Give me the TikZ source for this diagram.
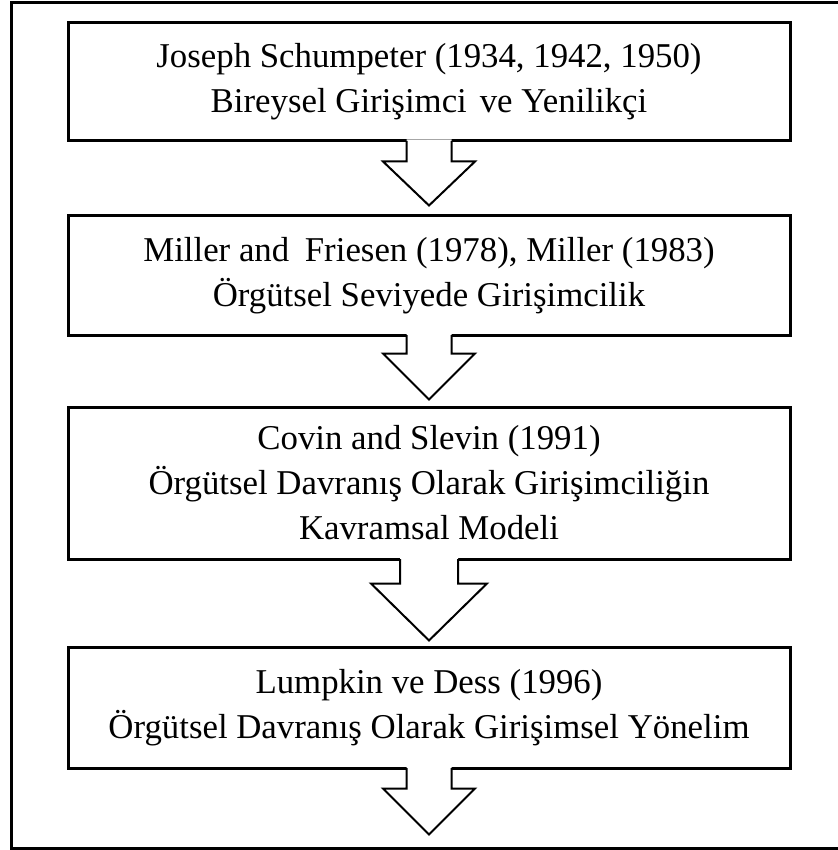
\documentclass[tikz,border=0pt]{standalone}
\usepackage{fontspec}
\setmainfont{Liberation Serif}
\usetikzlibrary{calc}
\newcommand\blockarrow[5]{%
  \fill[white] ($(#1.south)+(-#2,-3)$) -- ($(#1.south)+(-#2,#3)$) -- ($(#1.south)+(-#4,#3)$) -- ($(#1.south)+(0,#5)$) coordinate (#1tip) -- ($(#1.south)+(#4,#3)$) -- ($(#1.south)+(#2,#3)$) -- ($(#1.south)+(#2,-3)$) -- cycle;
  \draw[arrowline] ($(#1.south)+(-#2,-1.5)$) -- ($(#1.south)+(-#2,#3)$) -- ($(#1.south)+(-#4,#3)$) -- (#1tip) -- ($(#1.south)+(#4,#3)$) -- ($(#1.south)+(#2,#3)$) -- ($(#1.south)+(#2,-1.5)$);}
\begin{document}
\begin{tikzpicture}[x=0.5pt,y=-0.5pt,
  boxstyle/.style={draw, line width=1.5pt, minimum width=361pt, inner sep=0pt, align=center,
    font=\fontsize{17.4}{22.5}\selectfont},
  arrowline/.style={draw, line width=1pt, line join=miter},
  framestyle/.style={line width=1.5pt}]
\useasboundingbox (0,0) rectangle (838,850);
\draw[framestyle] (840,3) -- (11,3) -- (11,848.5) -- (840,848.5);
\node[boxstyle, minimum height=59pt] (b1) at (429,82)
  {Joseph Schumpeter (1934, 1942, 1950)\\Bireysel Girişimci\hspace{0.12em} ve Yenilikçi};
\node[boxstyle, minimum height=59.5pt] (b2) at (429,275.5)
  {Miller and\hspace{0.2em} Friesen (1978), Miller (1983)\\Örgütsel Seviyede Girişimcilik};
\node[boxstyle, minimum height=76pt] (b3) at (429,483)
  {Covin and Slevin (1991)\\Örgütsel Davranış Olarak Girişimciliğin\\Kavramsal Modeli};
\node[boxstyle, minimum height=60.5pt] (b4) at (429,707.5)
  {Lumpkin ve Dess (1996)\\Örgütsel Davranış Olarak Girişimsel Yönelim};
\blockarrow{b1}{22.5}{19}{46}{63}
\blockarrow{b2}{22.5}{17}{46}{63}
\blockarrow{b3}{29}{23}{58}{80}
\blockarrow{b4}{22.5}{19}{46}{65}
\end{tikzpicture}
\end{document}
